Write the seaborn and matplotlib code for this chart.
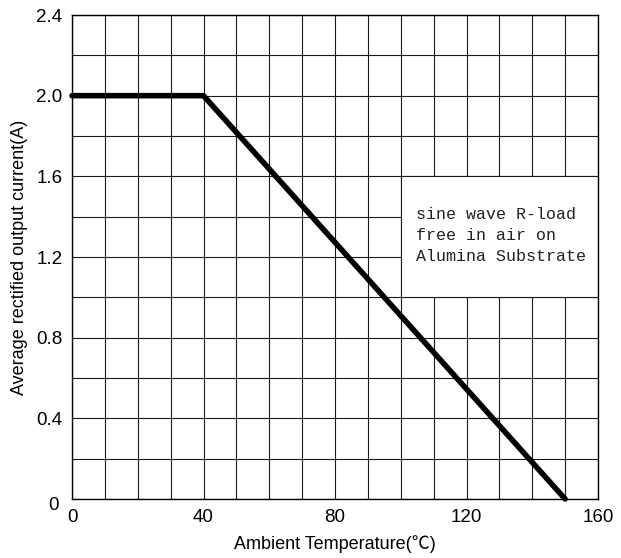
import matplotlib
matplotlib.use("Agg")
import matplotlib.pyplot as plt
import matplotlib.transforms as mtransforms
import seaborn as sns
import pandas as pd
import numpy as np
from matplotlib.patches import Rectangle

# Data
temperature = [0, 40, 150]
current = [2.0, 2.0, 0.0]
x_ticks = [0, 40, 80, 120, 160]
y_ticks = [0, 0.4, 0.8, 1.2, 1.6, 2.0, 2.4]
y_tick_labels = ["0", "0.4", "0.8", "1.2", "1.6", "2.0", "2.4"]
note_lines = ["sine wave R-load", "free in air on", "Alumina Substrate"]

sns.set_theme(style="white")
plt.rcParams['font.family'] = ['Liberation Sans', 'Noto Sans CJK SC', 'DejaVu Sans']

fig = plt.figure(figsize=(6.21, 5.58), dpi=100)
ax = fig.add_axes([72/621, 59/558, 526/621, 484/558])

df = pd.DataFrame({"T": temperature, "I": current})
sns.lineplot(data=df, x="T", y="I", ax=ax, color="black", linewidth=4.0,
             solid_capstyle="round", solid_joinstyle="miter", zorder=5, clip_on=False)

ax.set_xlim(0, 160)
ax.set_ylim(0, 2.4)
ax.set_xticks(np.arange(0, 161, 10), minor=True)
ax.set_yticks(np.arange(0, 2.41, 0.2), minor=True)
ax.set_xticks(x_ticks)
ax.set_yticks(y_ticks)
ax.set_yticklabels(y_tick_labels)
ax.grid(True, which="both", color="#1a1a1a", linewidth=0.8)
ax.set_axisbelow(True)
ax.tick_params(which="both", length=0, labelsize=13.5, colors="black")
ax.tick_params(axis="y", pad=7)
ax.tick_params(axis="x", pad=7)
for s in ax.spines.values():
    s.set_color("black")
    s.set_linewidth(1.0)

# shift the y "0" label slightly down-left as in the reference
ylabs = ax.get_yticklabels()
ylabs[0].set_transform(ylabs[0].get_transform() +
                       mtransforms.ScaledTranslation(-4/100, -5/100, fig.dpi_scale_trans))

# White note box covering grid
rect = Rectangle((100, 1.0), 60, 0.6, facecolor="white", edgecolor="#1a1a1a",
                 linewidth=0.8, zorder=2)
ax.add_patch(rect)
ax.text(104.5, 1.305, "\n".join(note_lines), fontsize=12, family=["Liberation Mono"],
        va="center", ha="left", linespacing=1.5, color="#222222", zorder=3)

ax.set_xlabel("Ambient Temperature(℃)", fontsize=13, color="black", labelpad=7)
ax.set_ylabel("Average rectified output current(A)", fontsize=13, color="black", labelpad=6)

fig.savefig("out.png", dpi=100)
